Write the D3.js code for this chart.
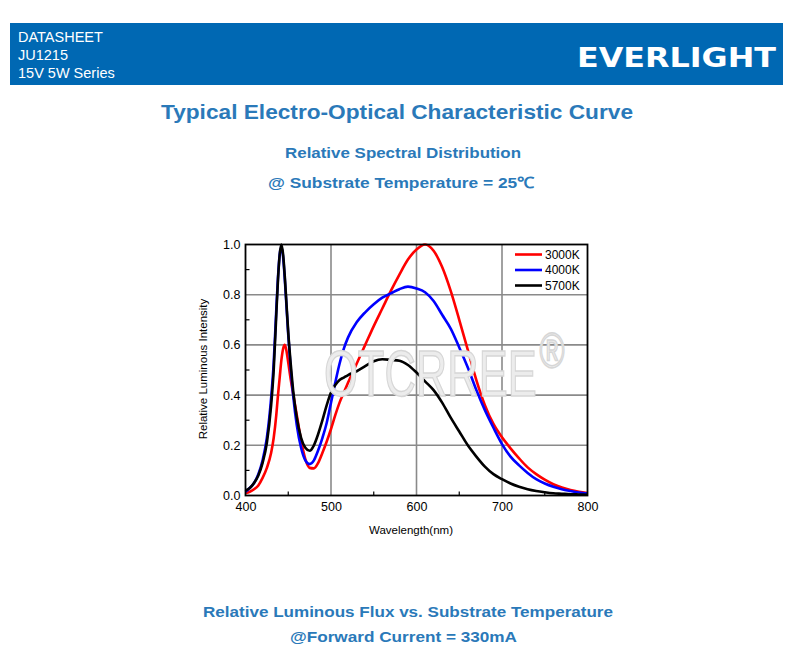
<!DOCTYPE html>
<html>
<head>
<meta charset="utf-8">
<script src="https://cdn.jsdelivr.net/npm/d3@7"></script>
<style>
  html, body { margin: 0; padding: 0; background: #fff; }
  svg { display: block; }
</style>
</head>
<body>
<svg id="chart" width="800" height="654"></svg>
<script>
// ---- data ----
const wavelengths = [400,405,410,415,420,425,430,433,436,438,440,442,444,446,448,450,453,456,460,465,470,475,480,485,490,495,500,505,510,515,520,530,540,550,560,570,580,590,600,610,620,630,640,650,660,670,680,690,700,710,720,730,740,750,760,770,780,790,800];

const series3000K = [0.01,0.015,0.025,0.04,0.07,0.11,0.17,0.23,0.32,0.40,0.47,0.54,0.585,0.60,0.575,0.53,0.46,0.40,0.32,0.22,0.145,0.11,0.108,0.13,0.17,0.215,0.265,0.32,0.37,0.41,0.45,0.525,0.60,0.675,0.745,0.815,0.88,0.94,0.98,1.0,0.975,0.91,0.815,0.70,0.58,0.46,0.36,0.285,0.232,0.188,0.148,0.112,0.085,0.063,0.045,0.032,0.022,0.015,0.01];

const series4000K = [0.015,0.03,0.05,0.085,0.14,0.23,0.39,0.53,0.74,0.87,0.96,0.99,0.95,0.86,0.75,0.64,0.50,0.39,0.28,0.19,0.14,0.125,0.14,0.18,0.23,0.29,0.37,0.45,0.525,0.585,0.63,0.69,0.73,0.762,0.788,0.805,0.822,0.832,0.825,0.81,0.775,0.72,0.665,0.59,0.51,0.42,0.34,0.27,0.205,0.155,0.12,0.09,0.065,0.048,0.035,0.025,0.018,0.012,0.008];

const series5700K = [0.02,0.03,0.05,0.08,0.13,0.21,0.36,0.50,0.72,0.86,0.96,1.0,0.96,0.87,0.76,0.65,0.52,0.41,0.31,0.23,0.19,0.178,0.20,0.245,0.30,0.36,0.41,0.44,0.46,0.47,0.48,0.495,0.515,0.535,0.543,0.54,0.537,0.52,0.49,0.455,0.42,0.37,0.31,0.255,0.20,0.155,0.115,0.085,0.065,0.048,0.035,0.025,0.018,0.013,0.009,0.007,0.005,0.004,0.003];

const seriesNames = ["3000K","4000K","5700K"];
const seriesColors = ["#ff0000","#0000ff","#000000"];
const xTicks = [400,500,600,700,800];
const yTicks = [0.0,0.2,0.4,0.6,0.8,1.0];

// ---- layout ----
const svg = d3.select("#chart");
const titleBlue = "#2a79b9";
const bandBlue = "#0068b3";

// header band
svg.append("rect").attr("x",10).attr("y",23).attr("width",773).attr("height",62).attr("fill",bandBlue);
const hdr = ["DATASHEET","JU1215","15V 5W Series"];
svg.selectAll("text.hdr").data(hdr).enter().append("text")
  .attr("class","hdr")
  .attr("x",18).attr("y",(d,i)=>41.5+i*18)
  .attr("fill","#fff").attr("font-family","Arial, 'Liberation Sans', sans-serif").attr("font-size",14.5)
  .text(d=>d);
svg.append("text").attr("x",577).attr("y",67)
  .attr("fill","#fff").attr("font-family","'DejaVu Sans', Arial, sans-serif").attr("font-weight",900)
  .attr("font-size",27).attr("textLength",199).attr("lengthAdjust","spacingAndGlyphs")
  .text("EVERLIGHT");

// titles
function ctext(t, x, y, size, len){
  const e = svg.append("text").attr("x",x).attr("y",y).attr("text-anchor","middle")
    .attr("fill",titleBlue).attr("font-family","Arial, 'Liberation Sans', sans-serif")
    .attr("font-weight","bold").attr("font-size",size).text(t);
  if(len) e.attr("textLength",len).attr("lengthAdjust","spacingAndGlyphs");
  return e;
}
ctext("Typical Electro-Optical Characteristic Curve", 397, 119, 21, 472);
ctext("Relative Spectral Distribution", 403, 158, 15.5, 236);
ctext("@ Substrate Temperature = 25\u2103", 401, 188, 15.5, 266);
ctext("Relative Luminous Flux vs. Substrate Temperature", 408, 617, 15.5, 410);
ctext("@Forward Current = 330mA", 403.5, 642, 15.5, 227);

// ---- plot ----
const x = d3.scaleLinear().domain([400,800]).range([245.5,587.5]);
const y = d3.scaleLinear().domain([0,1]).range([495.5,244.5]);

const g = svg.append("g");

// watermark (single text element, horizontally condensed)
const wm = svg.append("g").attr("transform","translate(324,396) scale(0.68,1)")
  .append("text")
  .attr("fill","#ececec").attr("stroke","#d6d6d6").attr("stroke-width",1.5)
  .attr("font-family","Arial, sans-serif").attr("font-size",64);
wm.append("tspan").text("OTCRREE");
wm.append("tspan").attr("font-size",50).attr("dx",4).attr("dy",-28).text("\u00AE");

// grid
g.selectAll("line.vg").data(xTicks.slice(1,-1)).enter().append("line")
  .attr("x1",d=>x(d)).attr("x2",d=>x(d)).attr("y1",y(0)).attr("y2",y(1))
  .attr("stroke","#8a8a8a").attr("stroke-width",1.6);
g.selectAll("line.hg").data(yTicks.slice(1,-1)).enter().append("line")
  .attr("y1",d=>y(d)).attr("y2",d=>y(d)).attr("x1",x(400)).attr("x2",x(800))
  .attr("stroke","#8a8a8a").attr("stroke-width",1.6);

// axes
const xAxis = d3.axisBottom(x).tickValues(xTicks).tickSize(0).tickPadding(7).tickFormat(d3.format("d"));
const yAxis = d3.axisLeft(y).tickValues(yTicks).tickSize(0).tickPadding(5).tickFormat(d3.format(".1f"));
const xa = g.append("g").attr("transform",`translate(0,${y(0)})`).call(xAxis);
const ya = g.append("g").attr("transform",`translate(${x(400)},0)`).call(yAxis);
[xa,ya].forEach(a=>{
  a.select(".domain").remove();
  a.selectAll("text").attr("font-family","Arial, 'Liberation Sans', sans-serif").attr("font-size",12.5).attr("fill","#000");
});
// inner minor ticks
const xMinor = d3.range(450,800,100);
const yMinor = d3.range(0.1,1.0,0.2);
g.selectAll("line.xm").data(xMinor).enter().append("line")
  .attr("x1",d=>x(d)).attr("x2",d=>x(d)).attr("y1",y(0)).attr("y2",y(0)-4)
  .attr("stroke","#000").attr("stroke-width",1.2);
g.selectAll("line.ym").data(yMinor).enter().append("line")
  .attr("y1",d=>y(d)).attr("y2",d=>y(d)).attr("x1",x(400)).attr("x2",x(400)+4)
  .attr("stroke","#000").attr("stroke-width",1.2);

// curves
const allSeries = [series3000K, series4000K, series5700K];
const line = d3.line().x(d=>x(d[0])).y(d=>y(d[1])).curve(d3.curveMonotoneX);
g.selectAll("path.s").data(allSeries).enter().append("path")
  .attr("d", s => line(wavelengths.map((w,i)=>[w,s[i]])))
  .attr("fill","none").attr("stroke",(d,i)=>seriesColors[i]).attr("stroke-width",2.6)
  .attr("stroke-linejoin","round");

// frame
g.append("rect").attr("x",x(400)).attr("y",y(1)).attr("width",x(800)-x(400)).attr("height",y(0)-y(1))
  .attr("fill","none").attr("stroke","#000").attr("stroke-width",1.8);

// legend
const lg = g.append("g");
seriesNames.forEach((n,i)=>{
  const yy = 254.5 + i*15.5;
  lg.append("line").attr("x1",515).attr("x2",542).attr("y1",yy).attr("y2",yy)
    .attr("stroke",seriesColors[i]).attr("stroke-width",2.6);
  lg.append("text").attr("x",545).attr("y",yy+4.2).attr("font-family","Arial, 'Liberation Sans', sans-serif")
    .attr("font-size",12).attr("fill","#000").text(n);
});

// axis titles
svg.append("text").attr("transform","translate(207,369) rotate(-90)").attr("text-anchor","middle")
  .attr("font-family","Arial, 'Liberation Sans', sans-serif").attr("font-size",11.5).attr("fill","#000")
  .text("Relative Luminous Intensity");
svg.append("text").attr("x",411).attr("y",534).attr("text-anchor","middle")
  .attr("font-family","Arial, 'Liberation Sans', sans-serif").attr("font-size",11.5).attr("fill","#000")
  .text("Wavelength(nm)");
</script>
</body>
</html>
